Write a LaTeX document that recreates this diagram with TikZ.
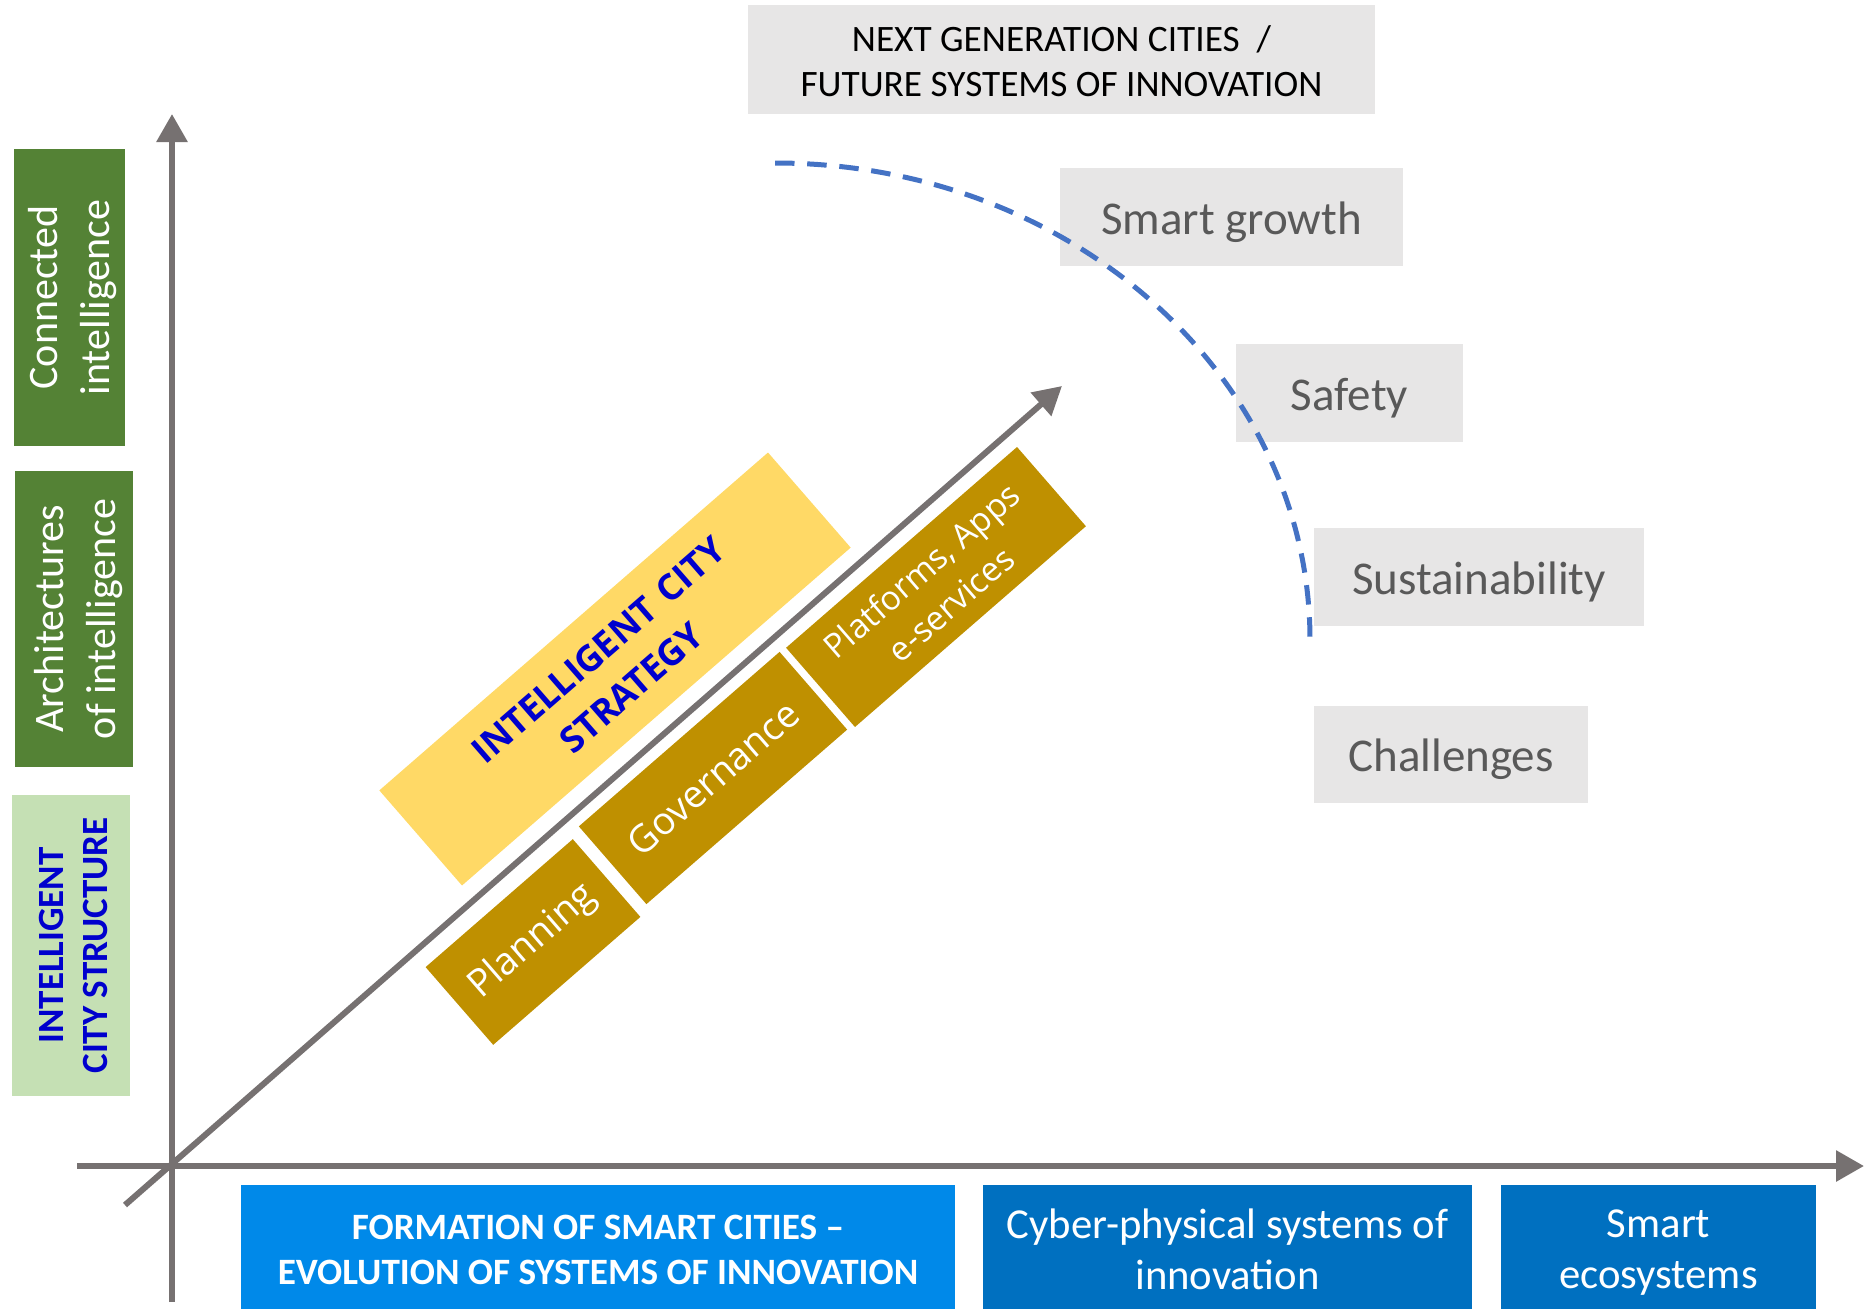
\documentclass[tikz,border=0pt]{standalone}
\usepackage{fontspec}
\setmainfont{Carlito}
\newfontfamily\osans{Open Sans}
\usetikzlibrary{arrows.meta}
\definecolor{axisgray}{HTML}{767171}
\definecolor{darkgreen}{HTML}{548235}
\definecolor{lightgreen}{HTML}{C5E0B4}
\definecolor{ygold}{HTML}{FFD966}
\definecolor{dgold}{HTML}{BF9000}
\definecolor{lgray}{HTML}{E7E6E6}
\definecolor{tgray}{HTML}{595959}
\definecolor{dashblue}{HTML}{4472C4}
\definecolor{brightblue}{RGB}{0,137,233}
\definecolor{midblue}{HTML}{0070C0}
\definecolor{txtblue}{RGB}{0,0,205}
\begin{document}
\begin{tikzpicture}[x=1pt,y=-1pt,
  axisline/.style={draw=axisgray, line width=6pt, -{Triangle[length=28pt,width=30pt]}},
  boxbase/.style={rectangle, inner sep=0pt, align=center},
  txt/.style={inner sep=0pt, align=center},
  greenbox/.style={boxbase, fill=darkgreen, rotate=90},
  greentext/.style={txt, text=white, rotate=90, font=\fontsize{42}{52}\selectfont},
  lgreenbox/.style={boxbase, fill=lightgreen, rotate=90},
  lgreentext/.style={txt, text=txtblue, rotate=90, font=\bfseries\fontsize{37}{44}\selectfont},
  graybox/.style={boxbase, fill=lgray},
  graytext/.style={txt, text=tgray, font=\fontsize{47}{56}\selectfont},
  titletext/.style={txt, text=black, font=\fontsize{37.3}{45}\selectfont},
  goldbox/.style={boxbase, fill=dgold, text=white, rotate=41, font=\osans\fontsize{38}{46}\selectfont},
  yellowbox/.style={boxbase, fill=ygold, text=txtblue, rotate=41, font=\osans\bfseries\fontsize{36}{50}\selectfont},
  bluebox/.style={boxbase, fill=midblue},
  bluetext/.style={txt, text=white, font=\fontsize{42.7}{51}\selectfont},
  dashline/.style={draw=dashblue, line width=5pt, dash pattern=on 19.5pt off 12.7pt}
]
\useasboundingbox (0,0) rectangle (1864,1309);
% axes
\coordinate (yb) at (172,1302);
\coordinate (yt) at (172,114);
\coordinate (xl) at (77,1166);
\coordinate (xr) at (1864,1166);
\coordinate (db) at (125,1205);
\coordinate (dt) at (1062,386);
\draw[axisline] (yb) -- (yt);
\draw[axisline] (xl) -- (xr);
\draw[axisline] (db) -- (dt);
% left green boxes
\node[greenbox, minimum width=297pt, minimum height=111pt] (conn) at (69.5,297.5) {};
\node[greentext] (connT) at ([xshift=3.5pt]conn.center) {Connected\\intelligence};
\node[greenbox, minimum width=296pt, minimum height=118pt] (arch) at (74,619) {};
\node[greentext] (archT) at ([xshift=5pt]arch.center) {Architectures\\of intelligence};
\node[lgreenbox, minimum width=301pt, minimum height=118pt] (struct) at (71,945.5) {};
\node[lgreentext] (structT) at ([xshift=2.5pt]struct.center) {INTELLIGENT\\CITY STRUCTURE};
% bottom boxes
\node[bluebox, fill=brightblue, minimum width=714pt, minimum height=124pt] (form) at (598,1247) {};
\node[bluetext, font=\bfseries\fontsize{37.2}{45}\selectfont] (formT) at ([yshift=-3pt]form.center) {FORMATION OF SMART CITIES --\\EVOLUTION OF SYSTEMS OF INNOVATION};
\node[bluebox, minimum width=489pt, minimum height=124pt] (cyber) at (1227.5,1247) {};
\node[bluetext] (cyberT) at ([yshift=-2pt]cyber.center) {Cyber-physical systems of\\innovation};
\node[bluebox, minimum width=315pt, minimum height=124pt] (eco) at (1658.5,1247) {};
\node[bluetext] (ecoT) at ([yshift=-5.5pt]eco.center) {Smart\\ecosystems};
% diagonal boxes
\node[yellowbox, minimum width=515pt, minimum height=126pt] (strat) at (615,669) {INTELLIGENT\hspace{0.1em} CITY\\STRATEGY};
\node[goldbox, minimum width=195pt, minimum height=103pt] (plan) at (533,942) {Planning};
\node[goldbox, minimum width=266pt, minimum height=103pt] (gov) at (713,778) {Governance};
\node[goldbox, font=\osans\fontsize{33.5}{45}\selectfont, minimum width=306pt, minimum height=105pt] (plat) at (936,587) {Platforms, Apps\\e-services};
% right gray boxes
\node[graybox, minimum width=627pt, minimum height=109pt] (title) at (1061.5,59.5) {};
\node[titletext] (titleT) at ([yshift=-1.5pt]title.center) {NEXT GENERATION CITIES\ \ /\\FUTURE SYSTEMS OF INNOVATION};
\node[graybox, minimum width=343pt, minimum height=98pt] (growth) at (1231.5,217) {};
\node[graytext] (growthT) at ([yshift=-5pt]growth.center) {Smart growth};
\node[graybox, minimum width=227pt, minimum height=98pt] (safety) at (1349.5,393) {};
\node[graytext] (safetyT) at ([yshift=-5pt]safety.center) {Safety};
\node[graybox, minimum width=330pt, minimum height=98pt] (sust) at (1479,577) {};
\node[graytext] (sustT) at ([yshift=-5pt]sust.center) {Sustainability};
\node[graybox, minimum width=274pt, minimum height=97pt] (chal) at (1451,754.5) {};
\node[graytext] (chalT) at ([yshift=-5pt]chal.center) {Challenges};
% dashed arc
\coordinate (arcS) at (775,163);
\coordinate (arcE) at (1310,640);
\draw[dashline] (arcS) .. controls (1070.5,163) and (1310,376.6) .. (arcE);
\end{tikzpicture}
\end{document}
